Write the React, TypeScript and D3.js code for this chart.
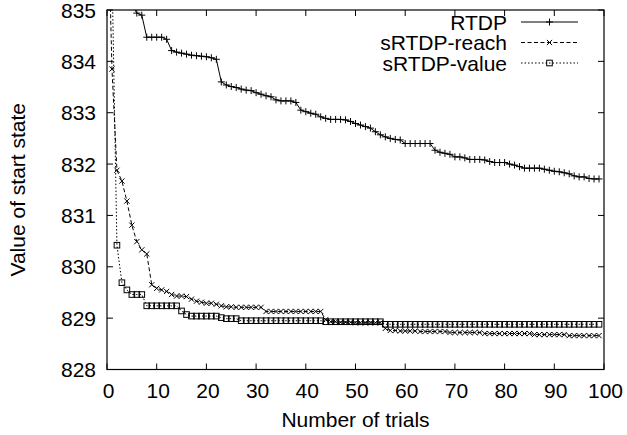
import React from "react";
import * as d3 from "d3";

const trials: number[] = d3.range(0, 100);

const rtdp: number[] = [
  842, 839, 837.5, 836.5, 835.6, 835.1, 834.94, 834.9, 834.47, 834.47,
  834.47, 834.47, 834.43, 834.21, 834.18, 834.16, 834.14, 834.12, 834.11, 834.1,
  834.09, 834.07, 834.04, 833.6, 833.54, 833.51, 833.49, 833.46, 833.44, 833.43,
  833.39, 833.36, 833.33, 833.31, 833.25, 833.23, 833.23, 833.23, 833.2, 833.05,
  833.02, 832.99, 832.97, 832.92, 832.89, 832.87, 832.87, 832.87, 832.86, 832.83,
  832.79, 832.76, 832.73, 832.7, 832.63, 832.57, 832.53, 832.5, 832.48, 832.47,
  832.4, 832.4, 832.4, 832.4, 832.4, 832.4, 832.27, 832.23, 832.21, 832.19,
  832.14, 832.14, 832.12, 832.09, 832.09, 832.09, 832.08, 832.05, 832.03, 832.03,
  832.03, 832.0, 831.98, 831.95, 831.92, 831.92, 831.92, 831.92, 831.9, 831.88,
  831.86, 831.85, 831.83, 831.81, 831.77, 831.75, 831.75, 831.72, 831.71, 831.71,
];

const reach: number[] = [
  837.7, 833.85, 831.88, 831.67, 831.28, 830.81, 830.49, 830.33, 830.25, 829.65,
  829.58, 829.55, 829.52, 829.46, 829.43, 829.43, 829.42, 829.37, 829.33, 829.31,
  829.29, 829.29, 829.27, 829.24, 829.22, 829.22, 829.21, 829.21, 829.21, 829.21,
  829.21, 829.21, 829.13, 829.13, 829.13, 829.13, 829.13, 829.13, 829.13, 829.13,
  829.13, 829.13, 829.13, 829.13, 828.97, 828.93, 828.93, 828.92, 828.92, 828.92,
  828.91, 828.91, 828.91, 828.91, 828.91, 828.91, 828.8, 828.76, 828.76, 828.75,
  828.75, 828.75, 828.75, 828.74, 828.74, 828.74, 828.74, 828.74, 828.74, 828.72,
  828.72, 828.72, 828.72, 828.72, 828.72, 828.72, 828.7, 828.7, 828.7, 828.7,
  828.7, 828.7, 828.7, 828.7, 828.7, 828.7, 828.68, 828.68, 828.68, 828.68,
  828.68, 828.68, 828.68, 828.66, 828.66, 828.66, 828.66, 828.66, 828.66, 828.66,
];

const value: number[] = [
  840, 835.8, 830.42, 829.69, 829.55, 829.46, 829.46, 829.46, 829.24, 829.24,
  829.24, 829.24, 829.24, 829.24, 829.24, 829.14, 829.07, 829.04, 829.04, 829.04,
  829.04, 829.04, 829.04, 829.01, 828.99, 828.99, 828.99, 828.95, 828.95, 828.95,
  828.95, 828.95, 828.95, 828.95, 828.95, 828.95, 828.95, 828.95, 828.95, 828.95,
  828.95, 828.95, 828.95, 828.95, 828.93, 828.93, 828.93, 828.93, 828.93, 828.93,
  828.93, 828.93, 828.93, 828.93, 828.93, 828.93, 828.88, 828.88, 828.88, 828.88,
  828.88, 828.88, 828.88, 828.88, 828.88, 828.88, 828.88, 828.88, 828.88, 828.88,
  828.88, 828.88, 828.88, 828.88, 828.88, 828.88, 828.88, 828.88, 828.88, 828.88,
  828.88, 828.88, 828.88, 828.88, 828.88, 828.88, 828.88, 828.88, 828.88, 828.88,
  828.88, 828.88, 828.88, 828.88, 828.88, 828.88, 828.88, 828.88, 828.88, 828.88,
];

const seriesNames: string[] = ["RTDP", "sRTDP-reach", "sRTDP-value"];
const xTicks: number[] = [0, 10, 20, 30, 40, 50, 60, 70, 80, 90, 100];
const yTicks: number[] = [828, 829, 830, 831, 832, 833, 834, 835];
const xLabel = "Number of trials";
const yLabel = "Value of start state";

const W = 627;
const H = 435;
const L = 107;
const R = 604;
const T = 10;
const B = 369.5;
const FONT = "'Liberation Sans', Arial, Helvetica, sans-serif";
const FS = 21;

type Marker = "plus" | "cross" | "square";

function MarkerShape({ kind, x, y }: { kind: Marker; x: number; y: number }) {
  if (kind === "plus") {
    const s = 3.5;
    return (
      <path d={`M${x - s},${y}H${x + s}M${x},${y - s}V${y + s}`} stroke="#000" strokeWidth={1} fill="none" />
    );
  }
  if (kind === "cross") {
    const s = 2.6;
    return (
      <path d={`M${x - s},${y - s}L${x + s},${y + s}M${x - s},${y + s}L${x + s},${y - s}`} stroke="#000" strokeWidth={1} fill="none" />
    );
  }
  const s = 2.8;
  return <rect x={x - s} y={y - s} width={2 * s} height={2 * s} stroke="#000" strokeWidth={1} fill="none" />;
}

export default function App() {
  const x = d3.scaleLinear().domain([0, 100]).range([L, R]);
  const y = d3.scaleLinear().domain([828, 835]).range([B, T]);

  const series: { name: string; data: number[]; marker: Marker; dash: string }[] = [
    { name: seriesNames[0], data: rtdp, marker: "plus", dash: "none" },
    { name: seriesNames[1], data: reach, marker: "cross", dash: "4,2.5" },
    { name: seriesNames[2], data: value, marker: "square", dash: "1.5,2" },
  ];

  const line = d3
    .line<number>()
    .x((_, i) => x(trials[i]))
    .y((d) => y(d));

  const legendY = [22, 42.5, 63];
  const legTextX = 507;
  const legX0 = 521;
  const legX1 = 578;

  return (
    <svg width={W} height={H} style={{ position: "absolute", left: 0, top: 0, background: "#fff" }}>
      <defs>
        <clipPath id="plotclip">
          <rect x={L} y={T} width={R - L} height={B - T} />
        </clipPath>
      </defs>
      <rect x={0} y={0} width={W} height={H} fill="#fff" />

      {xTicks.map((t) => (
        <g key={"xt" + t}>
          <line x1={x(t)} x2={x(t)} y1={B} y2={B - 6} stroke="#000" strokeWidth={1} />
          <line x1={x(t)} x2={x(t)} y1={T} y2={T + 6} stroke="#000" strokeWidth={1} />
          <text x={x(t) + 1.5} y={B + 28} textAnchor="middle" fontFamily={FONT} fontSize={FS} fill="#000">
            {t}
          </text>
        </g>
      ))}
      {yTicks.map((t) => (
        <g key={"yt" + t}>
          <line x1={L} x2={L + 6} y1={y(t)} y2={y(t)} stroke="#000" strokeWidth={1} />
          <line x1={R} x2={R - 6} y1={y(t)} y2={y(t)} stroke="#000" strokeWidth={1} />
          <text x={L - 11} y={y(t) + 7.5} textAnchor="end" fontFamily={FONT} fontSize={FS} fill="#000">
            {t}
          </text>
        </g>
      ))}

      <g clipPath="url(#plotclip)">
        {series.map((s) => (
          <path
            key={s.name}
            d={line(s.data) || ""}
            fill="none"
            stroke="#000"
            strokeWidth={1}
            strokeDasharray={s.dash}
          />
        ))}
        {series.map((s) =>
          s.data.map((v, i) =>
            v <= 835 && v >= 828 ? (
              <MarkerShape key={s.name + i} kind={s.marker} x={x(trials[i])} y={y(v)} />
            ) : null
          )
        )}
      </g>

      {series.map((s, i) => (
        <g key={"leg" + s.name}>
          <text x={legTextX} y={legendY[i] + 7.5} textAnchor="end" fontFamily={FONT} fontSize={FS} fill="#000">
            {s.name}
          </text>
          <line x1={legX0} x2={legX1} y1={legendY[i]} y2={legendY[i]} stroke="#000" strokeWidth={1} strokeDasharray={s.dash} />
          <MarkerShape kind={s.marker} x={(legX0 + legX1) / 2} y={legendY[i]} />
        </g>
      ))}

      <rect x={L} y={T} width={R - L} height={B - T} fill="none" stroke="#000" strokeWidth={1.2} />

      <text x={(L + R) / 2} y={427} textAnchor="middle" fontFamily={FONT} fontSize={FS} fill="#000">
        {xLabel}
      </text>
      <text
        transform={`translate(25,${(T + B) / 2}) rotate(-90)`}
        textAnchor="middle"
        fontFamily={FONT}
        fontSize={FS}
        fill="#000"
      >
        {yLabel}
      </text>
    </svg>
  );
}
